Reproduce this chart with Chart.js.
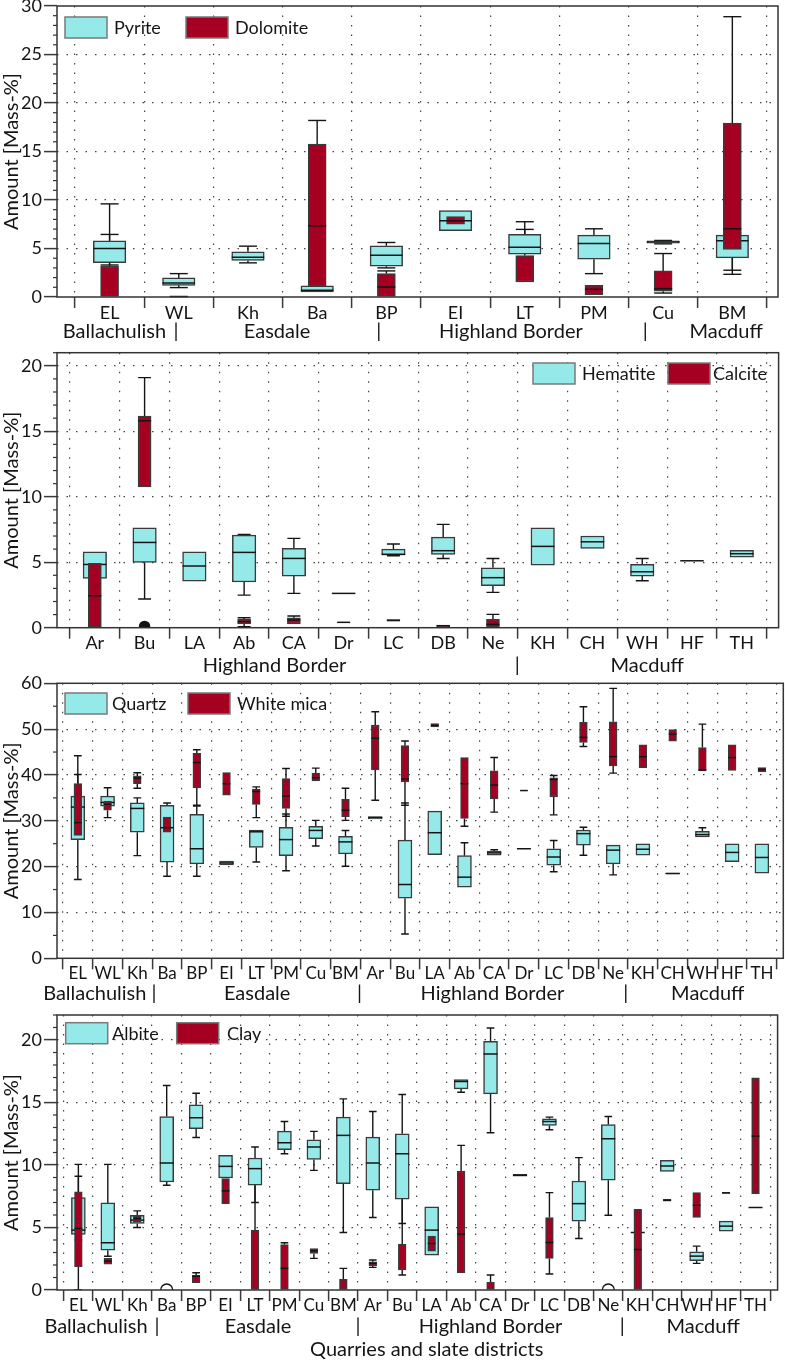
<!DOCTYPE html>
<html>
<head>
<meta charset="utf-8">
<title>Mineral amounts by quarry</title>
<script src="https://cdn.jsdelivr.net/npm/chart.js@4.4.1/dist/chart.umd.min.js"></script>
<style>
  html, body { margin: 0; padding: 0; background: #fff; }
  .panel { position: absolute; left: 0; width: 785px; }
</style>
</head>
<body>
<div class="panel" id="wrap1"><canvas id="chart1"></canvas></div>
<div class="panel" id="wrap2"><canvas id="chart2"></canvas></div>
<div class="panel" id="wrap3"><canvas id="chart3"></canvas></div>
<div class="panel" id="wrap4"><canvas id="chart4"></canvas></div>
<script>
// quarry codes
const codesA = ["EL", "WL", "Kh", "Ba", "BP", "EI", "LT", "PM", "Cu", "BM"];
const codesB = ["Ar", "Bu", "LA", "Ab", "CA", "Dr", "LC", "DB", "Ne", "KH", "CH", "WH", "HF", "TH"];
const codesAll = codesA.concat(codesB);
const districts = ["Ballachulish", "Easdale", "Highland Border", "Macduff"];

// y tick labels
const ticks30 = [0, 5, 10, 15, 20, 25, 30];
const ticks21 = [0, 5, 10, 15, 20];
const ticks60 = [0, 10, 20, 30, 40, 50, 60];
const ticks22 = [0, 5, 10, 15, 20];

// box stats per quarry: [low whisker, Q1, median, Q3, high whisker], null = no box
const pyrite = [
  [3.3, 3.55, 5.0, 5.8, 9.6], [0.97, 1.2, 1.45, 1.97, 2.41], [3.52, 3.76, 4.1, 4.66, 5.24],
  [0.52, 0.52, 0.69, 1.14, 1.14], [3.0, 3.17, 4.31, 5.28, 5.62], [6.83, 6.83, 7.86, 8.9, 8.9],
  [4.41, 4.41, 5.14, 6.45, 7.76], [2.41, 3.9, 5.52, 6.38, 7.03], [5.48, 5.55, 5.66, 5.78, 5.83],
  [2.34, 4.03, 5.79, 6.38, 6.6],
];
const dolomite = [
  [0, 0, null, 3.2, 6.45], [0.05, 0.05, 0.05, 0.08, 0.08], null,
  [0.6, 1.14, 7.34, 15.76, 18.2], [0, 0, 1.03, 2.41, 2.69], [7.52, 7.52, 7.86, 8.28, 8.28],
  [1.55, 1.55, null, 4.28, 6.97], [0.24, 0.24, 0.79, 1.2, 1.2], [0.41, 0.59, 0.86, 2.69, 4.48],
  [2.76, 4.9, 7.03, 17.93, 28.9],
];
const hematite = [
  [3.77, 3.77, 4.83, 5.8, 5.8], [2.19, 4.99, 6.51, 7.63, 7.63], [3.56, 3.56, 4.71, 5.8, 5.8],
  [2.49, 3.49, 5.75, 7.07, 7.12], [2.62, 3.94, 5.29, 6.06, 6.82], [2.62, 2.62, 2.62, 2.62, 2.62],
  [5.5, 5.55, 5.6, 6.0, 6.39], [5.29, 5.6, 5.88, 6.92, 7.89], [2.7, 3.21, 3.82, 4.58, 5.29],
  [4.78, 4.78, 6.21, 7.63, 7.63], [6.06, 6.06, 6.56, 7.0, 7.0], [3.59, 3.94, 4.27, 4.83, 5.29],
  [5.11, 5.11, 5.11, 5.11, 5.11], [5.39, 5.39, 5.65, 5.9, 5.9],
];
const calcite = [
  [0, 0, 2.44, 4.91, 4.91], [10.76, 10.76, 15.8, 16.16, 19.1], null,
  [0.08, 0.28, 0.46, 0.64, 0.76], [0.28, 0.28, 0.59, 0.76, 0.89], [0.41, 0.41, 0.41, 0.41, 0.41],
  [0.5, 0.5, 0.56, 0.62, 0.62], [0.08, 0.08, 0.15, 0.2, 0.2], [0, 0, 0.25, 0.64, 1.02],
  null, null, null, null, null,
];
const quartz = [
  [17.2, 25.9, 33.0, 35.4, 40.1], [33.2, 33.2, 34.0, 35.4, 37.2], [22.4, 27.5, 32.7, 33.9, 35.0],
  [17.9, 21.0, 28.5, 33.4, 33.9], [17.9, 20.6, 23.9, 31.4, 33.2], [20.4, 20.4, 20.8, 21.2, 21.2],
  [21.0, 24.2, 27.6, 28.0, 28.0], [19.1, 22.4, 25.9, 28.6, 31.5], [24.5, 26.1, 27.9, 28.8, 30.1],
  [20.1, 22.8, 25.4, 26.6, 27.9], [30.4, 30.4, 30.7, 30.9, 30.9], [5.3, 13.1, 16.1, 25.8, 33.9],
  [22.6, 22.6, 27.4, 32.1, 32.1], [15.5, 15.5, 17.7, 22.4, 25.2], [22.5, 22.5, 23.0, 23.4, 23.7],
  [23.9, 23.9, 23.9, 23.9, 23.9], [18.9, 20.3, 22.1, 23.9, 25.7], [22.5, 24.7, 27.2, 28.0, 28.6],
  [18.2, 20.6, 23.6, 24.7, 24.7], [22.5, 22.5, 23.8, 25.0, 25.0], [18.4, 18.4, 18.5, 18.6, 18.6],
  [26.5, 26.5, 27.0, 27.7, 28.5], [21.1, 21.1, 23.1, 25.0, 25.0], [18.6, 18.6, 22.0, 25.0, 25.0],
];
const whiteMica = [
  [26.3, 26.8, 29.6, 38.1, 44.2], [30.7, 32.3, 33.6, 34.3, 34.3], [37.1, 38.1, 39.3, 39.8, 40.5],
  [27.5, 27.5, 28.5, 30.8, 32.8], [33.4, 37.2, 42.7, 44.7, 45.5], [35.6, 35.6, 38.1, 40.5, 40.5],
  [30.7, 33.6, 36.4, 36.9, 37.4], [31.0, 32.7, 35.4, 39.2, 41.4], [38.7, 38.7, 39.4, 40.4, 41.5],
  [30.1, 30.9, 32.3, 34.7, 37.1], [34.5, 41.1, 48.0, 50.9, 53.8], [33.4, 38.5, 39.1, 46.4, 47.4],
  [50.5, 50.5, 50.8, 51.2, 51.2], [28.8, 30.5, 38.1, 43.8, 43.8], [31.9, 34.8, 37.8, 40.9, 43.8],
  [36.6, 36.6, 36.6, 36.6, 36.6], [31.3, 35.2, 39.0, 39.4, 39.9], [46.2, 47.1, 48.2, 51.5, 54.9],
  [40.4, 42.0, 44.0, 51.6, 58.9], [41.6, 41.6, 44.0, 46.6, 46.6], [47.4, 47.4, 48.9, 49.9, 49.9],
  [40.9, 40.9, 41.1, 46.0, 51.1], [41.0, 41.0, 43.8, 46.6, 46.6], [40.7, 40.7, 41.2, 41.6, 41.6],
];
const albite = [
  [4.0, 4.44, 4.79, 7.39, 10.05], [2.7, 3.19, 3.78, 6.97, 10.05], [5.0, 5.32, 5.59, 5.98, 6.33],
  [8.38, 8.64, 10.16, 13.88, 16.36], [12.2, 12.9, 13.78, 14.81, 15.74], [8.96, 8.96, 9.89, 10.77, 10.77],
  [7.0, 8.38, 9.71, 10.56, 11.44], [10.9, 11.22, 11.78, 12.71, 13.48], [9.57, 10.45, 11.44, 12.02, 12.69],
  [4.6, 8.51, 12.37, 13.83, 15.29], [5.8, 7.98, 10.16, 12.23, 14.28], [5.32, 7.26, 10.9, 12.5, 15.64],
  [2.79, 2.79, 4.79, 6.65, 6.65], [15.82, 16.09, 16.68, 16.84, 16.84], [12.58, 15.69, 18.88, 19.89, 20.96],
  [9.1, 9.1, 9.18, 9.25, 9.25], [12.82, 13.16, 13.48, 13.7, 13.83], [4.12, 5.51, 6.91, 8.72, 10.59],
  [5.98, 8.78, 12.1, 13.24, 13.88], [4.6, 4.6, 4.6, 4.6, 4.6], [9.49, 9.49, 9.92, 10.37, 10.37],
  [2.13, 2.34, 2.71, 3.06, 3.51], [4.71, 4.71, 5.11, 5.51, 5.51], [6.6, 6.6, 6.6, 6.6, 6.6],
];
const clay = [
  [0, 1.86, 4.92, 7.85, 9.1], [2.07, 2.07, 2.31, 2.53, 2.53], [5.45, 5.45, 5.72, 5.9, 5.9],
  null, [0.59, 0.59, 1.1, 1.17, 1.38], [6.91, 6.91, 7.93, 8.91, 8.91],
  [0, 0, null, 4.79, 9.63], [0, 0, 1.73, 3.64, 3.78], [2.53, 2.93, 3.14, 3.32, 3.32],
  [0, 0, null, 0.85, 1.73], [1.81, 1.94, 2.13, 2.26, 2.4], [1.2, 1.6, null, 3.67, 10.29],
  [3.11, 3.11, 3.72, 4.31, 4.31], [1.38, 1.38, 4.47, 9.52, 11.57], [0, 0, null, 0.61, 1.2],
  null, [1.28, 2.53, 3.8, 5.8, 7.79], null,
  null, [0, 0, 3.24, 6.46, 6.46], [7.1, 7.1, 7.18, 7.25, 7.25],
  [5.8, 5.8, 6.78, 7.79, 7.79], [7.72, 7.72, 7.77, 7.82, 7.82], [7.71, 7.71, 12.31, 16.97, 16.97],
];
// outliers: [quarry index, value]
const calciteOutliers = [[1, 0.1]];
const albiteOutliers = [[3, 0], [18, 0]];

const CYAN = "#95eae9";
const RED = "#a50021";
const EDGE = "#3a3a3a";
const INK = "#151515";
const DOT = "#444444";
const Y_AXIS_WIDTH = 57;

Chart.defaults.font.family = "Lato, 'Open Sans', sans-serif";
Chart.defaults.color = INK;

const panels = [
  {
    wrap: "wrap1", canvas: "chart1", codes: codesA,
    series: [["Pyrite", pyrite], ["Dolomite", dolomite]],
    yMax: 30, yTicks: ticks30, minorStep: 1, codeSize: 18,
    layout: { top: 0, height: 345, padTop: 6, padRight: 7, xAxis: 48, xMin: -0.76, xMax: 9.66 },
    districtAt: [0.07, 2.42, 5.8, 8.91], dividers: [0.96, 3.89, 7.74], districtDrop: 40.7,
    legend: { y: 11, swatches: [8, 129], texts: [57, 178] },
  },
  {
    wrap: "wrap2", canvas: "chart2", codes: codesB,
    series: [["Hematite", hematite], ["Calcite", calcite]],
    outliers: calciteOutliers, outlierFill: INK, outlierRadius: 5,
    yMax: 21, yTicks: ticks21, minorStep: 1, codeSize: 18,
    layout: { top: 335, height: 345, padTop: 17.7, padRight: 2, xAxis: 52.3, xMin: -0.76, xMax: 13.74 },
    districtAt: [3.61, 11.1], districtNames: ["Highland Border", "Macduff"], dividers: [8.49], districtDrop: 44,
    legend: { y: 10.3, swatches: [476, 611], texts: [525, 656] },
  },
  {
    wrap: "wrap3", canvas: "chart3", codes: codesAll,
    series: [["Quartz", quartz], ["White mica", whiteMica]],
    yMax: 60, yTicks: ticks60, minorStep: 5, codeSize: 17,
    layout: { top: 665, height: 340, padTop: 18.3, padRight: 1.7, xAxis: 46.7, xMin: -0.7, xMax: 23.72 },
    districtAt: [0.57, 6.03, 13.94, 21.18], dividers: [2.56, 9.47, 18.42], districtDrop: 41.7,
    legend: { y: 9.7, swatches: [8, 131], texts: [55, 180] },
  },
  {
    wrap: "wrap4", canvas: "chart4", codes: codesAll,
    series: [["Albite", albite], ["Clay", clay]],
    outliers: albiteOutliers, outlierFill: "rgba(0,0,0,0)", outlierRadius: 6,
    yMax: 22, yTicks: ticks22, minorStep: 1, codeSize: 17,
    layout: { top: 1000, height: 362, padTop: 15, padRight: 0.7, xAxis: 72, xMin: -0.726, xMax: 23.75 },
    districtAt: [0.6, 6.1, 14.0, 21.22], dividers: [2.67, 9.5, 18.47], districtDrop: 42.7,
    legend: { y: 7.7, swatches: [8.7, 119.7], texts: [55, 170] },
    xTitle: "Quarries and slate districts", xTitleX: 426.7, xTitleDrop: 66,
  },
];

function hLine(ctx, x1, x2, y) {
  ctx.beginPath();
  ctx.moveTo(x1, y);
  ctx.lineTo(x2, y);
  ctx.stroke();
}

function vLine(ctx, x, y1, y2) {
  ctx.beginPath();
  ctx.moveTo(x, y1);
  ctx.lineTo(x, y2);
  ctx.stroke();
}

// whiskers, medians, frame, minor ticks, district row and legend
function boxPartsPlugin(panel) {
  return {
    id: "boxParts",
    beforeDatasetsDraw(chart) {
      const { ctx, chartArea, scales: { x, y } } = chart;
      const half = (x.getPixelForValue(1) - x.getPixelForValue(0)) * 0.13;
      ctx.save();
      ctx.beginPath();
      ctx.rect(chartArea.left, chartArea.top, chartArea.width, chartArea.height);
      ctx.clip();
      ctx.strokeStyle = INK;
      ctx.lineWidth = 1.4;
      chart.data.datasets.forEach((ds) => {
        if (ds.type === "scatter") return;
        ds.data.forEach((d) => {
          const cx = x.getPixelForValue(d.x);
          const [q1, q3] = d.y;
          if (d.lo < q1) {
            const py = y.getPixelForValue(d.lo);
            vLine(ctx, cx, y.getPixelForValue(q1), py);
            hLine(ctx, cx - half, cx + half, py);
          }
          if (d.hi > q3) {
            const py = y.getPixelForValue(d.hi);
            vLine(ctx, cx, y.getPixelForValue(q3), py);
            hLine(ctx, cx - half, cx + half, py);
          }
        });
      });
      ctx.restore();
    },
    afterDatasetDraw(chart, args) {
      const ds = chart.data.datasets[args.index];
      if (ds.type === "scatter") return;
      const { ctx, scales: { y } } = chart;
      ctx.save();
      ctx.strokeStyle = INK;
      ctx.lineWidth = 1.5;
      args.meta.data.forEach((bar, j) => {
        const med = ds.data[j].med;
        if (med === null) return;
        const py = y.getPixelForValue(med);
        hLine(ctx, bar.x - bar.width / 2, bar.x + bar.width / 2, py);
      });
      ctx.restore();
    },
    afterDraw(chart) {
      const { ctx, chartArea, scales: { x, y } } = chart;
      ctx.save();
      // frame
      ctx.strokeStyle = "#333";
      ctx.lineWidth = 1.5;
      ctx.strokeRect(chartArea.left, chartArea.top, chartArea.width, chartArea.height);
      // minor ticks
      ctx.lineWidth = 1.2;
      for (let v = 0; v <= panel.yMax; v += panel.minorStep) {
        if (panel.yTicks.includes(v)) continue;
        hLine(ctx, chartArea.left - 4, chartArea.left, y.getPixelForValue(v));
      }
      // district row
      ctx.fillStyle = INK;
      ctx.font = "20px Lato, 'Open Sans', sans-serif";
      ctx.textAlign = "center";
      ctx.textBaseline = "alphabetic";
      const names = panel.districtNames || districts;
      const rowY = chartArea.bottom + panel.districtDrop;
      panel.districtAt.forEach((v, k) => ctx.fillText(names[k], x.getPixelForValue(v), rowY));
      panel.dividers.forEach((v) => ctx.fillText("|", x.getPixelForValue(v), rowY));
      if (panel.xTitle) {
        ctx.fillText(panel.xTitle, panel.xTitleX, chartArea.bottom + panel.xTitleDrop);
      }
      // legend
      const lg = panel.legend;
      ctx.font = "18px Lato, 'Open Sans', sans-serif";
      ctx.textAlign = "left";
      ctx.textBaseline = "middle";
      panel.series.forEach(([name], k) => {
        const sx = chartArea.left + lg.swatches[k];
        const sy = chartArea.top + lg.y;
        ctx.fillStyle = k === 0 ? CYAN : RED;
        ctx.fillRect(sx, sy, 42, 21);
        ctx.strokeStyle = "#7a7a7a";
        ctx.lineWidth = 1.5;
        ctx.strokeRect(sx, sy, 42, 21);
        ctx.fillStyle = INK;
        ctx.fillText(name, chartArea.left + lg.texts[k], sy + 11);
      });
      ctx.restore();
    },
  };
}

function createBoxPanel(panel) {
  const L = panel.layout;
  const wrap = document.getElementById(panel.wrap);
  wrap.style.top = L.top + "px";
  wrap.style.height = L.height + "px";
  const catPx = (785 - L.padRight - Y_AXIS_WIDTH) / (L.xMax - L.xMin);
  const n = panel.codes.length;

  const datasets = panel.series.map(([name, stats], k) => ({
    label: name,
    data: stats
      .map((s, i) => s && { x: i, y: [s[1], s[3]], lo: s[0], med: s[2], hi: s[4] })
      .filter(Boolean),
    backgroundColor: k === 0 ? CYAN : RED,
    borderColor: EDGE,
    borderWidth: 1.5,
    borderSkipped: false,
    barThickness: catPx * (k === 0 ? 0.47 : 0.26),
    grouped: false,
    order: 2 - k,
  }));

  if (panel.outliers) {
    datasets.push({
      type: "scatter",
      label: "outliers",
      data: panel.outliers.map(([i, v]) => ({ x: i, y: v })),
      pointRadius: panel.outlierRadius,
      pointBackgroundColor: panel.outlierFill,
      pointBorderColor: INK,
      pointBorderWidth: 1.4,
      clip: 0,
      order: 0,
    });
  }

  const ctx = document.getElementById(panel.canvas).getContext("2d");
  new Chart(ctx, {
    type: "bar",
    data: { datasets },
    options: {
      responsive: true,
      maintainAspectRatio: false,
      animation: false,
      events: [],
      layout: { padding: { top: L.padTop, right: L.padRight, left: 0, bottom: 0 } },
      plugins: {
        legend: { display: false },
        tooltip: { enabled: false },
      },
      scales: {
        x: {
          type: "linear",
          min: L.xMin,
          max: L.xMax,
          offset: false,
          afterBuildTicks(scale) {
            const t = [];
            for (let i = 0; i < n; i++) {
              t.push({ value: i - 0.5 });
              t.push({ value: i });
            }
            t.push({ value: n - 0.5 });
            scale.ticks = t;
          },
          afterFit(scale) {
            scale.height = L.xAxis;
            scale.paddingLeft = 0;
            scale.paddingRight = 0;
          },
          grid: {
            offset: false,
            color: (c) => (c.tick && !Number.isInteger(c.tick.value) ? DOT : "rgba(0,0,0,0)"),
            lineWidth: 1.2,
            tickLength: 11,
            tickWidth: 1.5,
            tickColor: (c) => (c.tick && !Number.isInteger(c.tick.value) ? EDGE : "rgba(0,0,0,0)"),
          },
          border: { display: false, dash: [1.5, 8] },
          ticks: {
            autoSkip: false,
            maxRotation: 0,
            minRotation: 0,
            padding: -6,
            color: INK,
            font: { size: panel.codeSize },
            callback: (value) => (Number.isInteger(value) ? panel.codes[value] : ""),
          },
        },
        y: {
          min: 0,
          max: panel.yMax,
          afterBuildTicks(scale) {
            scale.ticks = panel.yTicks.map((v) => ({ value: v }));
          },
          afterFit(scale) {
            scale.width = Y_AXIS_WIDTH;
            scale.paddingTop = 0;
            scale.paddingBottom = 0;
          },
          grid: {
            color: (c) =>
              c.tick && c.tick.value > 0 && c.tick.value < panel.yMax ? DOT : "rgba(0,0,0,0)",
            lineWidth: 1.2,
            tickLength: 13,
            tickWidth: 1.5,
            tickColor: EDGE,
          },
          border: { display: false, dash: [1.5, 8] },
          ticks: { color: INK, padding: 2, font: { size: 18 } },
          title: {
            display: true,
            text: "Amount [Mass-%]",
            color: INK,
            font: { size: 20 },
            padding: 0,
          },
        },
      },
    },
    plugins: [boxPartsPlugin(panel)],
  });
}

function drawAll() {
  panels.forEach(createBoxPanel);
}

document.fonts.load("20px Lato").then(drawAll, drawAll);
</script>
</body>
</html>
